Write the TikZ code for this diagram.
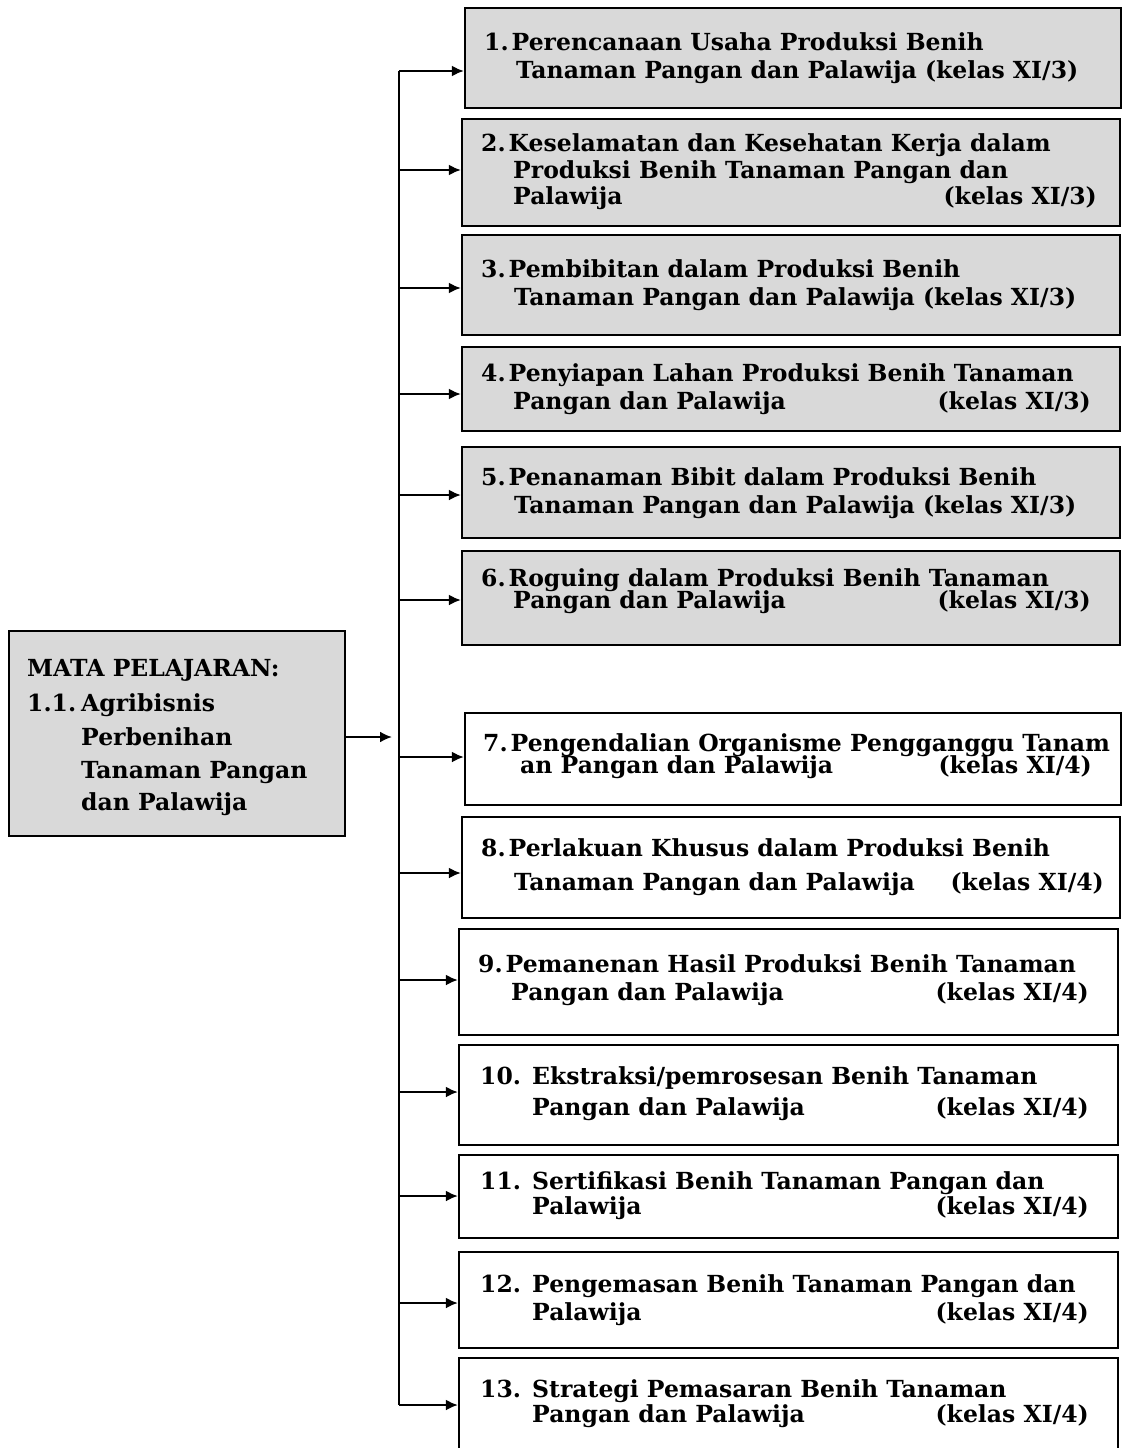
\documentclass[tikz,border=0pt]{standalone}
\usepackage{fontspec}
\setmainfont{DejaVu Serif}
\usetikzlibrary{fit,arrows.meta}
\definecolor{boxgray}{HTML}{D9D9D9}
\newcommand\nsp{\hspace{3pt}}
\tikzset{
  box/.style={draw=black, line width=2.2pt, inner sep=0pt},
  gbox/.style={box, fill=boxgray},
  wbox/.style={box, fill=white},
  txt/.style={inner sep=0pt, font=\fontsize{23.5}{27}\selectfont\bfseries},
  L/.style={txt, anchor=base west},
  R/.style={txt, anchor=base east},
  arr/.style={draw=black, line width=2.2pt, -{Latex[length=12pt,width=11pt]}},
  spine/.style={draw=black, line width=2.2pt}
}
\begin{document}
\begin{tikzpicture}[x=1pt,y=-1pt]
\useasboundingbox (0,0) rectangle (1123,1448);
% main box
\node[gbox, fit={(9,631) (345,836)}] (m) {};
\node[L] (m1) at (27,676) {MATA PELAJARAN:};
\node[L] (m2) at (27,711) {1.1.};
\node[L] (m3) at (81,711) {Agribisnis};
\node[L] (m4) at (81,745) {Perbenihan};
\node[L] (m5) at (81,778) {Tanaman Pangan};
\node[L] (m6) at (81,810) {dan Palawija};
% boxes
\node[gbox, fit={(465,8) (1121,108)}] (b1) {};
\node[L] (t1a) at (484,50) {1.\nsp Perencanaan Usaha Produksi Benih};
\node[L] (t1b) at (516,78) {Tanaman Pangan dan Palawija (kelas XI/3)};
\node[gbox, fit={(462,119) (1120,226)}] (b2) {};
\node[L] (t2a) at (481,151) {2.\nsp Keselamatan dan Kesehatan Kerja dalam};
\node[L] (t2b) at (513,178) {Produksi Benih Tanaman Pangan dan};
\node[L] (t2c) at (513,204) {Palawija};
\node[R] (t2d) at (1097,204) {(kelas XI/3)};
\node[gbox, fit={(462,235) (1120,335)}] (b3) {};
\node[L] (t3a) at (481,277) {3.\nsp Pembibitan dalam Produksi Benih};
\node[L] (t3b) at (514,305) {Tanaman Pangan dan Palawija (kelas XI/3)};
\node[gbox, fit={(462,347) (1120,431)}] (b4) {};
\node[L] (t4a) at (481,381) {4.\nsp Penyiapan Lahan Produksi Benih Tanaman};
\node[L] (t4b) at (513,409) {Pangan dan Palawija};
\node[R] (t4c) at (1091,409) {(kelas XI/3)};
\node[gbox, fit={(462,447) (1120,538)}] (b5) {};
\node[L] (t5a) at (481,485) {5.\nsp Penanaman Bibit dalam Produksi Benih};
\node[L] (t5b) at (514,513) {Tanaman Pangan dan Palawija (kelas XI/3)};
\node[gbox, fit={(462,551) (1120,645)}] (b6) {};
\node[L] (t6a) at (481,586) {6.\nsp Roguing dalam Produksi Benih Tanaman};
\node[L] (t6b) at (513,608) {Pangan dan Palawija};
\node[R] (t6c) at (1091,608) {(kelas XI/3)};
\node[wbox, fit={(465,713) (1121,805)}] (b7) {};
\node[L] (t7a) at (483,751) {7.\nsp Pengendalian Organisme Pengganggu Tanam};
\node[L] (t7b) at (520,773) {an Pangan dan Palawija};
\node[R] (t7c) at (1092,773) {(kelas XI/4)};
\node[wbox, fit={(462,817) (1120,918)}] (b8) {};
\node[L] (t8a) at (481,856) {8.\nsp Perlakuan Khusus dalam Produksi Benih};
\node[L] (t8b) at (514,890) {Tanaman Pangan dan Palawija};
\node[R] (t8c) at (1104,890) {(kelas XI/4)};
\node[wbox, fit={(459,929) (1118,1035)}] (b9) {};
\node[L] (t9a) at (478,972) {9.\nsp Pemanenan Hasil Produksi Benih Tanaman};
\node[L] (t9b) at (511,1000) {Pangan dan Palawija};
\node[R] (t9c) at (1089,1000) {(kelas XI/4)};
\node[wbox, fit={(459,1045) (1118,1145)}] (b10) {};
\node[L] (n10) at (480,1084) {10.};
\node[L] (t10a) at (532,1084) {Ekstraksi/pemrosesan Benih Tanaman};
\node[L] (t10b) at (532,1115) {Pangan dan Palawija};
\node[R] (t10c) at (1089,1115) {(kelas XI/4)};
\node[wbox, fit={(459,1155) (1118,1238)}] (b11) {};
\node[L] (n11) at (480,1189) {11.};
\node[L] (t11a) at (532,1189) {Sertifikasi Benih Tanaman Pangan dan};
\node[L] (t11b) at (532,1214) {Palawija};
\node[R] (t11c) at (1089,1214) {(kelas XI/4)};
\node[wbox, fit={(459,1252) (1118,1348)}] (b12) {};
\node[L] (n12) at (480,1292) {12.};
\node[L] (t12a) at (532,1292) {Pengemasan Benih Tanaman Pangan dan};
\node[L] (t12b) at (532,1320) {Palawija};
\node[R] (t12c) at (1089,1320) {(kelas XI/4)};
\node[wbox, fit={(459,1358) (1118,1480)}] (b13) {};
\node[L] (n13) at (480,1397) {13.};
\node[L] (t13a) at (532,1397) {Strategi Pemasaran Benih Tanaman};
\node[L] (t13b) at (532,1422) {Pangan dan Palawija};
\node[R] (t13c) at (1089,1422) {(kelas XI/4)};
% spine
\coordinate (s1) at (399,71);
\coordinate (s2) at (399,170);
\coordinate (s3) at (399,288);
\coordinate (s4) at (399,394);
\coordinate (s5) at (399,495);
\coordinate (s6) at (399,600);
\coordinate (s7) at (399,757);
\coordinate (s8) at (399,873);
\coordinate (s9) at (399,980);
\coordinate (s10) at (399,1092);
\coordinate (s11) at (399,1196);
\coordinate (s12) at (399,1303);
\coordinate (s13) at (399,1405);
\coordinate (mt) at (392,737);
\path[spine] (s1) -- (s13);
\path[arr] (m.east |- mt) -- (mt);
\foreach \i in {1,...,13} {
  \path[arr] (s\i) -- (s\i -| b\i.west);
}
\end{tikzpicture}
\end{document}
